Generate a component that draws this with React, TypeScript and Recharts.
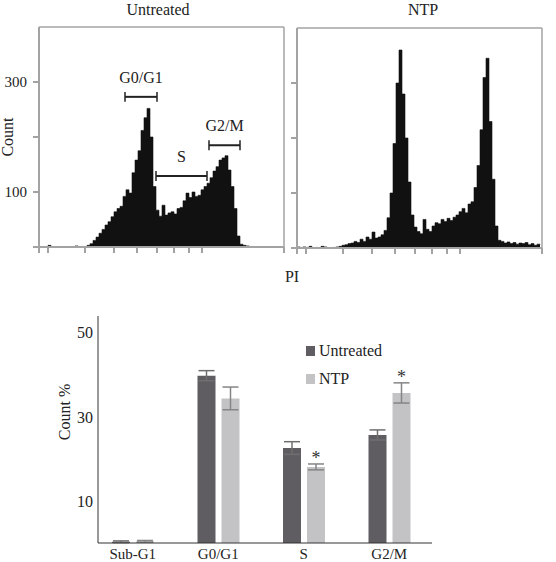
import React from 'react';
import {
  AreaChart, Area, XAxis, YAxis, ReferenceLine,
  BarChart, Bar, ErrorBar, LabelList, Legend,
} from 'recharts';

const FONT = "'Liberation Serif', 'Times New Roman', serif";
const AXIS_GREY = '#a3a3a3';
const DARK = '#5f5d62';
const LIGHT = '#c3c2c5';

// PI histograms, one count per 3-channel bin
const BIN_WIDTH = 3;
const untreatedCounts = [
  0, 0, 0, 3, 0, 0, 0, 0, 0, 0,
  0, 0, 2, 0, 0, 0, 3, 6, 12, 18,
  25, 32, 40, 46, 55, 64, 70, 74, 92, 104,
  98, 135, 158, 175, 212, 235, 252, 200, 110, 67,
  56, 76, 58, 62, 64, 60, 70, 72, 84, 98,
  90, 100, 92, 94, 104, 110, 116, 126, 138, 146,
  158, 162, 166, 140, 110, 70, 20, 5, 3, 2,
  1, 0, 0, 0, 0, 0, 0, 0, 0, 0,
  0, 0,
];
const ntpCounts = [
  2, 1, 2, 1, 3, 0, 1, 0, 3, 2,
  0, 0, 1, 2, 3, 5, 6, 8, 9, 12,
  10, 16, 12, 20, 16, 29, 18, 20, 24, 32,
  55, 100, 190, 300, 360, 280, 200, 120, 60, 38,
  30, 26, 52, 34, 30, 40, 46, 44, 52, 48,
  54, 50, 56, 60, 66, 72, 64, 80, 84, 110,
  150, 215, 310, 345, 230, 125, 40, 14, 12, 9,
  11, 8, 10, 7, 9, 8, 10, 6, 8, 5,
  7, 6,
];
const piTicks = [0, 9, 46, 75, 98, 118, 135, 150, 163, 245];
const countTicks = [0, 100, 200, 300];
const countTickLabels = ['', '100', '', '300'];

// gates marked on the untreated histogram
const gateNames = ['G0/G1', 'S', 'G2/M'];
const gateStart = [86, 117, 170];
const gateEnd = [118, 168, 201];
const gateLevel = [273, 129, 185];

// cell cycle distribution (%)
const seriesNames = ['Untreated', 'NTP'];
const phases = ['Sub-G1', 'G0/G1', 'S', 'G2/M'];
const untreatedPct = [0.3, 39.8, 22.6, 25.7];
const untreatedErr = [0.2, 1.2, 1.5, 1.2];
const ntpPct = [0.4, 34.4, 18.1, 35.7];
const ntpErr = [0.2, 2.7, 0.7, 2.4];
const ntpSignificant = [false, false, true, true];
const pctTicks = [10, 30, 50];

const Histogram = ({ counts, left, width, marginTop, yAxisWidth, showLabels, showGates }: any) => {
  const data = counts.map((c: number, i: number) => ({ ch: i * BIN_WIDTH, count: c }));
  return (
    <div style={{ position: 'absolute', left, top: 0 }}>
      <AreaChart width={width} height={270} data={data} margin={{ top: marginTop, right: 11, left: 0, bottom: 0 }}>
        <XAxis
          type="number" dataKey="ch" domain={[0, 245]} ticks={piTicks}
          tickFormatter={() => ''} stroke={AXIS_GREY} strokeWidth={2} tickSize={6}
          height={270 - marginTop - 220}
        />
        <YAxis
          type="number" domain={[0, 400]} ticks={countTicks} width={yAxisWidth}
          stroke={AXIS_GREY} strokeWidth={2} tickSize={6} tickMargin={6}
          tickFormatter={(v: number, i: number) => (showLabels ? countTickLabels[i] : '')}
          tick={{ fill: '#222', fontSize: 15, fontFamily: FONT }}
        />
        <ReferenceLine y={400} stroke={AXIS_GREY} strokeWidth={1.5} />
        <ReferenceLine x={245} stroke={AXIS_GREY} strokeWidth={1.5} />
        <Area
          type="stepAfter" dataKey="count" fill="#111" stroke="#111" strokeWidth={0.6}
          fillOpacity={1} isAnimationActive={false}
        />
        {showGates && gateNames.map((name, i) => (
          <ReferenceLine
            key={name}
            segment={[{ x: gateStart[i], y: gateLevel[i] }, { x: gateEnd[i], y: gateLevel[i] }]}
            stroke="#222" strokeWidth={2}
            label={{ value: name, position: 'top', offset: 14, fill: '#222', fontSize: 16, fontFamily: FONT }}
          />
        ))}
        {showGates && gateNames.map((name, i) => (
          <ReferenceLine
            key={name + '-a'}
            segment={[{ x: gateStart[i], y: gateLevel[i] - 9 }, { x: gateStart[i], y: gateLevel[i] + 9 }]}
            stroke="#222" strokeWidth={1.5}
          />
        ))}
        {showGates && gateNames.map((name, i) => (
          <ReferenceLine
            key={name + '-b'}
            segment={[{ x: gateEnd[i], y: gateLevel[i] - 9 }, { x: gateEnd[i], y: gateLevel[i] + 9 }]}
            stroke="#222" strokeWidth={1.5}
          />
        ))}
      </AreaChart>
    </div>
  );
};

const renderStar = (props: any) => {
  const box = props.viewBox ?? props;
  const { x, y, width, height } = box;
  const idx = props.index;
  if (!ntpSignificant[idx]) return null;
  const pxPerUnit = height / ntpPct[idx];
  const top = y - ntpErr[idx] * pxPerUnit;
  return (
    <text x={x + width / 2} y={top} textAnchor="middle" fontSize={18} fontFamily={FONT} fill="#333">*</text>
  );
};

// keep the legend in series order (Untreated first)
const renderLegend = ({ payload }: any) => {
  const items = [...(payload || [])].sort(
    (a: any, b: any) => seriesNames.indexOf(a.value) - seriesNames.indexOf(b.value),
  );
  return (
    <div style={{ fontFamily: FONT, fontSize: 16, color: '#222' }}>
      {items.map((entry: any) => (
        <div key={entry.value} style={{ display: 'flex', alignItems: 'center', height: 28 }}>
          <span style={{ display: 'inline-block', width: 9, height: 10, background: entry.color, marginRight: 4 }} />
          {entry.value}
        </div>
      ))}
    </div>
  );
};

export default function App() {
  const barData = phases.map((p, i) => ({
    phase: p,
    untreated: untreatedPct[i],
    untreatedErr: untreatedErr[i],
    ntp: ntpPct[i],
    ntpErr: ntpErr[i],
  }));

  return (
    <div style={{ position: 'absolute', left: 0, top: 0, width: 556, height: 562, background: '#fff', overflow: 'hidden' }}>
      <Histogram counts={untreatedCounts} left={0} width={295} marginTop={27} yAxisWidth={39} showLabels showGates />
      <Histogram counts={ntpCounts} left={283} width={270} marginTop={28} yAxisWidth={14} showLabels={false} showGates={false} />

      <div style={{ position: 'absolute', left: 0, top: 300 }}>
        <BarChart
          width={556} height={262} data={barData}
          margin={{ top: 16, right: 124, left: 0, bottom: 0 }}
          barSize={18} barGap={6}
        >
          <XAxis
            dataKey="phase" stroke="#333" tickLine={false} tickSize={0} tickMargin={5} height={19}
            padding={{ left: -8, right: 0 }}
            tick={{ fill: '#222', fontSize: 15, fontFamily: FONT }}
          />
          <YAxis
            domain={[0, 54]} ticks={pctTicks} width={98} stroke="#333" tickLine={false}
            tickSize={0} tickMargin={5}
            tick={{ fill: '#222', fontSize: 16, fontFamily: FONT }}
          />
          <Legend
            layout="vertical" align="center" verticalAlign="middle"
            content={renderLegend}
            wrapperStyle={{ left: 306, top: 37, width: 'auto', height: 'auto' }}
          />
          <Bar dataKey="untreated" name={seriesNames[0]} fill={DARK} isAnimationActive={false}>
            <ErrorBar dataKey="untreatedErr" width={8} stroke="#6f6f6f" strokeWidth={1.5} direction="y" />
          </Bar>
          <Bar dataKey="ntp" name={seriesNames[1]} fill={LIGHT} isAnimationActive={false}>
            <ErrorBar dataKey="ntpErr" width={8} stroke="#858585" strokeWidth={1.5} direction="y" />
            <LabelList dataKey="ntp" content={renderStar} />
          </Bar>
        </BarChart>
      </div>

      <svg width={556} height={562} style={{ position: 'absolute', left: 0, top: 0, pointerEvents: 'none' }}>
        <g fontFamily={FONT} fill="#222" fontSize={16}>
          <text x={158} y={15} textAnchor="middle">Untreated</text>
          <text x={423} y={15} textAnchor="middle">NTP</text>
          <text transform="translate(13,137) rotate(-90)" textAnchor="middle">Count</text>
          <text x={292} y={282} textAnchor="middle">PI</text>
          <text transform="translate(70,412) rotate(-90)" textAnchor="middle">Count %</text>
        </g>
      </svg>
    </div>
  );
}
